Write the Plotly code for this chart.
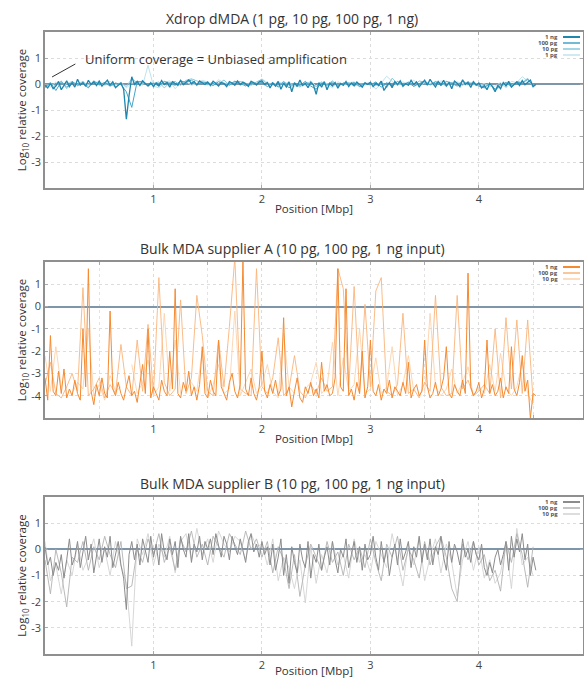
import plotly.graph_objects as go

# ---------------- data ----------------
BIN_FINE = 0.025   # Mbp per bin (highest input)
BIN_COARSE = 0.05  # Mbp per bin (lower inputs)

panel_titles = [
    "Xdrop dMDA (1 pg, 10 pg, 100 pg, 1 ng)",
    "Bulk MDA supplier A (10 pg, 100 pg, 1 ng input)",
    "Bulk MDA supplier B (10 pg, 100 pg, 1 ng input)",
]
x_tick_vals = [1, 2, 3, 4]
x_tick_text = ["1", "2", "3", "4"]
y_ticks_p1 = [1, 0, -1, -2, -3]
y_ticks_p2 = [1, 0, -1, -2, -3, -4]
y_ticks_p3 = [1, 0, -1, -2, -3]

# Panel 1: Xdrop dMDA
xdrop_1ng = [
    -0.05, -0.15, 0.02, -0.18, -0.08, 0.10, -0.22, -0.05, 0.12, -0.10, 0.05, -0.12, 0.18, -0.04, 0.06, -0.09, 0.14, -0.02, 0.08, -0.06,
    0.11, -0.08, 0.03, 0.15, -0.05, 0.09, -0.14, -0.03, 0.04, -0.20, -1.35, -0.45, 0.28, -0.02, 0.10, -0.06, 0.12, 0.02, -0.08, 0.05,
    -0.10, 0.04, -0.07, 0.13, -0.02, 0.06, -0.12, 0.09, 0.01, -0.05, 0.14, -0.03, 0.07, 0.16, 0.02, 0.10, -0.04, 0.12, 0.05, -0.02,
    0.08, -0.06, 0.11, 0.03, -0.08, 0.06, 0.02, -0.10, 0.09, 0.04, -0.05, 0.12, -0.03, 0.07, 0.01, -0.09, 0.10, 0.05, -0.04, 0.08,
    0.12, -0.02, 0.06, -0.15, 0.04, -0.08, 0.10, -0.20, 0.03, -0.12, 0.08, -0.30, 0.05, -0.10, 0.15, -0.06, 0.02, -0.14, 0.07, -0.04,
    -0.40, 0.05, -0.12, 0.09, -0.22, 0.03, -0.08, 0.06, -0.16, 0.02, -0.05, 0.10, -0.10, 0.04, -0.07, 0.08, -0.03, -0.12, 0.05, -0.02,
    0.07, -0.10, 0.03, -0.06, 0.11, -0.25, -0.08, 0.05, -0.14, 0.09, -0.03, 0.12, -0.09, 0.02, -0.05, 0.14, -0.02, 0.08, -0.11, 0.04,
    0.15, -0.05, 0.18, 0.02, -0.12, 0.10, -0.04, 0.14, -0.08, 0.06, -0.18, 0.11, 0.03, -0.10, 0.16, -0.02, 0.07, -0.13, 0.09, -0.05,
    0.04, -0.15, -0.06, -0.22, 0.02, -0.10, -0.30, -0.05, -0.18, 0.06, -0.08, 0.10, -0.12, -0.02, 0.08, -0.06, 0.13, -0.03, 0.05, 0.15,
    -0.10, -0.02,
]
xdrop_100pg = [
    -0.10, 0.05, -0.25, 0.08, -0.12, 0.10, -0.05, 0.02, -0.15, 0.12, -0.03, 0.06, -0.08, 0.04, -0.02, -0.30, -0.90, 0.10, 0.07, -0.06,
    0.03, -0.08, 0.10, 0.02, -0.05, 0.12, 0.06, 0.15, -0.02, 0.08, 0.04, -0.06, 0.09, 0.01, -0.04, 0.11, 0.03, -0.07, 0.05, 0.02,
    0.06, -0.10, 0.04, -0.12, 0.08, -0.15, 0.02, -0.06, 0.10, -0.08, -0.20, 0.03, -0.05, 0.07, -0.09, 0.04, -0.02, 0.06, -0.10, 0.03,
    -0.04, 0.08, -0.12, 0.05, -0.07, 0.10, -0.03, 0.06, -0.09, 0.02, 0.12, -0.04, 0.08, -0.06, 0.10, 0.03, -0.08, 0.12, -0.02, 0.05,
    -0.08, -0.15, 0.02, -0.20, -0.05, 0.06, -0.10, 0.08, 0.02, 0.18, -0.05,
]
xdrop_10pg = [
    -0.15, 0.04, -0.08, 0.12, -0.18, 0.06, -0.02, 0.10, -0.10, 0.05, 0.08, -0.04, 0.02, -0.12, 0.06, -0.10, 0.20, 0.05, 0.12, -0.06,
    0.02, 0.08, -0.15, 0.05, 0.10, -0.06, 0.14, 0.20, 0.12, 0.05, -0.03, 0.08, 0.02, 0.15, -0.04, 0.06, 0.10, 0.03, -0.05, 0.08,
    0.18, -0.02, 0.05, -0.08, 0.10, -0.05, 0.03, -0.12, 0.06, 0.02, -0.10, 0.08, -0.04, 0.12, -0.06, 0.03, 0.05, -0.08, 0.02, -0.03,
    0.05, -0.06, 0.10, -0.15, 0.22, 0.02, -0.04, 0.08, -0.10, 0.12, 0.06, -0.03, 0.10, 0.04, -0.08, 0.06, 0.02, -0.05, 0.09, -0.02,
    0.03, -0.12, 0.06, -0.25, -0.08, 0.04, -0.06, 0.10, 0.05, 0.22, -0.12,
]
xdrop_1pg = [
    -0.05, -0.12, 0.08, -0.20, 0.02, 0.10, -0.08, 0.05, -0.03, 0.12, -0.06, 0.04, 0.10, -0.02, 0.06, -0.15, 0.03, 0.08, -0.05, 0.72,
    -0.08, -0.15, 0.06, 0.12, -0.18, 0.04, 0.10, -0.05, 0.02, 0.14, 0.08, -0.04, 0.16, 0.05, -0.02, 0.10, 0.06, -0.08, 0.12, 0.03,
    0.20, 0.05, -0.06, 0.10, -0.02, 0.08, -0.10, 0.04, -0.05, 0.12, -0.08, 0.06, 0.02, -0.15, 0.09, -0.04, 0.05, 0.08, -0.10, 0.02,
    0.06, -0.20, 0.04, 0.30, 0.10, -0.06, 0.08, -0.02, 0.15, -0.08, 0.05, 0.02, -0.06, 0.12, 0.04, -0.10, 0.08, 0.03, -0.04, 0.10,
    -0.05, 0.02, -0.10, -0.08, 0.06, -0.15, 0.10, 0.05, 0.28, 0.12, -0.02,
]

# Panel 2: Bulk MDA supplier A
supA_1ng = [
    -3.2, -4.2, -1.3, -3.8, -4.0, -2.9, -3.9, -2.8, -4.1, -3.7, -4.0, -3.3, -3.9, -4.2, -1.0, -3.6, 1.7, -3.8, -4.4, -3.5,
    -4.0, -3.2, -3.9, -4.1, -0.2, -3.7, -4.0, -3.4, -3.9, -4.2, -3.6, -3.1, -4.0, -3.8, -4.3, -3.5, -2.6, -3.9, -1.0, -4.1,
    -3.6, -3.9, -4.2, -3.3, -3.8, -4.0, -2.0, -3.7, 0.8, -3.9, -4.1, -3.4, -3.8, -2.9, -4.0, -3.6, -4.2, -3.5, -1.8, -3.9,
    -4.1, -3.3, -3.8, -4.0, -1.5, -3.6, -3.9, -4.2, -3.4, -3.0, -3.8, -4.1, -3.5, 2.1, -3.7, -4.0, -3.2, -3.9, -4.2, -3.6,
    -2.0, -3.8, -4.1, -3.5, -3.9, -3.3, -4.0, -3.7, -0.5, -4.0, -3.6, -4.5, -3.8, -3.2, -4.1, -4.3, -3.6, -3.9, -3.4, -4.0,
    -3.7, -4.1, -2.5, -3.8, -3.5, -4.0, -3.9, -3.2, 1.7, -3.6, -3.8, 0.8, -4.0, -3.7, -4.2, -3.4, -3.9, -2.0, -4.1, -3.6,
    -1.5, -3.8, -4.0, -3.5, -4.2, -3.7, -3.9, -3.3, -4.1, -3.6, -3.8, -4.0, -3.4, -3.9, -2.5, -4.1, -3.7, -3.5, -4.0, -3.8,
    -1.5, -3.6, -4.1, -3.9, -3.4, -4.0, -3.7, -3.2, -1.8, -3.9, -4.1, -3.5, -3.8, -4.0, -3.3, -3.9, 1.5, -3.6, -4.0, -3.8,
    -3.4, -4.1, -3.7, -1.5, -3.9, -3.5, -4.0, -3.8, -3.2, -4.1, -3.6, -3.9, -1.8, -3.7, -4.0, -3.4, -2.2, -3.8, -3.3, -5.0,
    -3.9, -4.0,
]
supA_100pg = [
    -3.5, -2.5, -3.9, -4.1, -3.6, -3.0, -3.8, 0.85, -4.0, -3.7, -3.2, -4.1, -3.5, -3.9, -1.7, -3.6, -4.0, -1.5, -3.8, -0.8,
    -3.9, 1.3, -3.4, -4.0, -3.7, 0.3, -3.9, -3.2, 0.5, -1.3, -3.8, -4.0, -1.5, -3.6, -0.9, 2.2, -3.7, -3.9, -4.0, 1.7,
    -3.6, -3.9, -3.2, -1.4, -4.0, -3.7, -2.2, -3.8, -4.1, -3.5, -3.9, -3.2, -3.8, -3.6, 1.7, 0.8, -3.7, 0.9, -3.9, 0.1,
    -3.6, 0.7, 1.3, -3.8, -4.0, -3.5, -0.3, -3.9, -3.7, -4.1, -3.4, -3.8, 0.5, -3.6, -4.0, -3.9, 0.5, -3.7, -3.3, -4.0,
    -3.8, -3.5, -3.9, -1.0, -4.1, -0.5, -3.7, -0.6, -3.9, -0.6, -4.2,
]
supA_10pg = [
    -2.2, -3.8, -1.8, -3.6, None, -3.9, -3.4, -3.7, -1.0, -4.0, -3.5, -4.2, -3.1, -3.8, -3.6, None, -2.6, -3.9, -3.4, -2.4,
    -4.0, -3.6, -0.3, -3.8, -1.5, -3.9, None, -3.4, -3.8, -2.0, -4.1, -3.5, -2.6, -3.9, -3.7, -0.2, -4.0, -3.4, -2.8, -3.9,
    -3.5, -2.6, -3.8, -4.1, -1.2, -3.6, -3.9, None, -3.7, -3.4, -2.5, -3.9, -3.6, -1.6, -4.0, -2.3, -3.8, -3.5, -1.0, -3.9,
    -3.7, -2.3, -3.9, -3.6, -1.8, -4.0, -3.5, -2.2, -3.8, None, -3.9, -0.3, -3.6, -4.0, -3.7, -2.8, -3.9, -3.4, -2.7, -4.0,
    -3.6, -3.9, -2.6, -3.8, -2.1, -3.7, -4.0, -3.6, -2.5, -3.9, -4.4,
]

# Panel 3: Bulk MDA supplier B
supB_1ng = [
    0.1, -0.6, -0.3, -1.0, -0.5, -0.8, -0.2, -1.1, -0.4, 0.4, -0.6, -0.3, 0.3, -0.7, -0.1, 0.5, -0.4, 0.2, -0.9, -0.2,
    0.4, -0.5, 0.1, -0.3, 0.5, -0.7, -0.2, 0.3, -0.6, -1.1, -2.3, -0.2, 0.3, -0.4, 0.2, -0.6, 0.4, -0.1, -0.5, 0.5,
    -0.3, 0.2, -0.6, 0.6, -0.1, -0.4, 0.4, -0.2, 0.3, -0.7, 0.5, 0.0, -0.3, 0.6, -0.5, 0.2, -0.1, 0.5, -0.4, 0.3,
    0.0, 0.4, -0.2, 0.6, 0.1, -0.3, 0.5, 0.2, -0.4, 0.5, 0.1, -0.2, 0.4, 0.0, -0.5, 0.3, 0.6, -0.1, 0.2, -0.3,
    0.3, -0.2, 0.1, -0.6, 0.2, -0.8, -0.3, 0.4, -1.0, -0.2, -1.3, 0.1, -0.5, -0.9, 0.2, -0.4, -0.7, 0.3, -1.1, -0.2,
    -0.5, 0.2, -0.8, -0.3, 0.1, -0.6, 0.3, -0.4, -0.9, 0.0, -0.3, 0.4, -0.7, -0.2, 0.3, -0.5, 0.1, -0.8, 0.2, -0.4,
    -0.2, 0.5, -0.3, -0.8, 0.3, -0.5, 0.0, -1.0, -0.3, 0.2, -0.6, 0.4, -0.4, -0.1, 0.3, -0.7, 0.1, -0.3, 0.5, -0.5,
    0.2, -0.4, 0.4, -0.6, 0.1, -0.2, 0.5, -0.3, -0.8, 0.3, -0.5, 0.2, -0.1, -0.6, 0.4, -0.3, 0.0, -0.5, 0.3, -0.2,
    -0.4, 0.2, -0.7, -1.0, -0.5, -0.9, -0.3, 0.0, -0.6, -0.2, 0.3, -0.8, 0.5, -0.3, 0.4, -0.1, 0.6, -0.4, 0.2, -1.0,
    -0.3, -0.8,
]
supB_100pg = [
    -0.4, -1.7, 0.0, -0.9, -2.2, -0.3, -0.5, 0.3, -0.8, 0.1, -0.4, 0.5, -0.2, -0.7, 0.3, -1.5, -1.4, 0.0, -0.5, 0.4,
    -0.2, 0.6, -0.5, 0.1, -0.8, 0.4, -0.1, 0.7, -0.3, 0.2, -0.6, 0.5, 0.1, -0.3, 0.6, 0.2, -0.2, 0.7, 0.0, 0.4,
    -0.3, 0.3, -0.9, 0.1, -0.4, -1.5, -0.2, -1.8, -0.6, 0.2, -0.3, -0.8, 0.3, -0.5, -0.1, -1.0, 0.2, -0.4, 0.1, -0.7,
    0.4, -0.5, -1.2, 0.2, -0.3, 0.5, -0.8, 0.0, -0.4, -1.1, 0.3, -0.6, 0.1, 0.5, -0.3, -1.5, -2.0, 0.2, -0.4, 0.3,
    -0.6, -0.2, -1.2, -0.8, -1.6, 0.3, -0.5, 0.6, -0.2, -1.45, 0.1,
]
supB_10pg = [
    0.3, -1.2, -0.6, -1.7, -0.4, -1.0, 0.2, -0.8, -0.3, 0.4, -0.7, 0.0, -1.0, 0.3, -0.6, -1.3, -3.7, 0.4, -0.2, 0.6,
    -0.6, 0.2, -0.3, 0.5, -0.9, 0.3, 0.6, -0.4, 0.8, -0.2, 0.4, -0.5, 0.7, 0.2, -0.1, 0.5, 0.3, -0.4, 0.6, 0.1,
    0.2, -0.6, 0.4, -1.2, -0.3, -0.7, -1.5, -0.4, -2.05, 0.1, -1.3, -0.2, -0.9, 0.3, -0.6, -0.2, -1.1, 0.4, -0.5, -0.2,
    -0.9, 0.3, -0.2, -0.7, 0.6, -0.4, -1.4, 0.2, -0.6, 0.5, -1.2, -0.3, 0.4, -0.9, 0.2, -0.5, -1.8, -0.4, 0.3, -0.8,
    0.1, -1.1, -0.4, -1.3, -0.9, 0.2, -1.5, 0.8, -0.6, -0.3, -1.0,
]


def positions(values, step):
    return [round(i * step, 4) for i in range(len(values))]


# ---------------- layout helpers ----------------
W, H = 584, 678
FONT = "Open Sans"


def py(px):
    return 1 - px / H


def pxx(px):
    return px / W


panels = [
    dict(top=32, bottom=188, yr=[-4, 2], yt=y_ticks_p1,
         series=[("1 pg", xdrop_1pg, BIN_COARSE, "#bfe3ee", 1.0),
                 ("10 pg", xdrop_10pg, BIN_COARSE, "#86c8de", 1.0),
                 ("100 pg", xdrop_100pg, BIN_COARSE, "#45a4c6", 1.0),
                 ("1 ng", xdrop_1ng, BIN_FINE, "#1f86ae", 1.3)],
         minor=False),
    dict(top=262, bottom=418, yr=[-5, 2], yt=y_ticks_p2,
         series=[("10 pg", supA_10pg, BIN_COARSE, "#fcd2aa", 0.9),
                 ("100 pg", supA_100pg, BIN_COARSE, "#f9b47a", 0.9),
                 ("1 ng", supA_1ng, BIN_FINE, "#f58a30", 1.0)],
         minor=True),
    dict(top=497, bottom=654, yr=[-4, 2], yt=y_ticks_p3,
         series=[("10 pg", supB_10pg, BIN_COARSE, "#d2d2d2", 0.9),
                 ("100 pg", supB_100pg, BIN_COARSE, "#b2b2b2", 0.9),
                 ("1 ng", supB_1ng, BIN_FINE, "#8c8c8c", 1.0)],
         minor=False),
]

fig = go.Figure()
annotations = []
shapes = []
layout_axes = {}

for k, p in enumerate(panels):
    n = k + 1
    xa = "x" if n == 1 else f"x{n}"
    ya = "y" if n == 1 else f"y{n}"
    for name, vals, step, color, lw in p["series"]:
        fig.add_trace(go.Scatter(
            x=positions(vals, step), y=vals, mode="lines", name=name,
            line=dict(color=color, width=lw), xaxis=xa, yaxis=ya,
            showlegend=False, connectgaps=False,
        ))
    xkey = "xaxis" if n == 1 else f"xaxis{n}"
    ykey = "yaxis" if n == 1 else f"yaxis{n}"
    xaxis = dict(
        domain=[pxx(45), pxx(583)], range=[0, 4.96], anchor=ya,
        tickvals=x_tick_vals, ticktext=x_tick_text,
        showline=True, linecolor="#8f8f8f", linewidth=1.5, mirror="ticks",
        ticks="inside", ticklen=3, tickcolor="#aaaaaa",
        showgrid=True, gridcolor="#dcdcdc", griddash="dot", gridwidth=1,
        zeroline=False,
        tickfont=dict(family=FONT, size=11, color="#444"),
        title=dict(text="Position [Mbp]", font=dict(family=FONT, size=11.5, color="#333"), standoff=0),
        automargin=False,
    )
    if p["minor"]:
        xaxis["minor"] = dict(dtick=0.5, tick0=0, showgrid=True, gridcolor="#e2e2e2",
                              griddash="dot", ticks="inside", ticklen=3, tickcolor="#aaaaaa")
    layout_axes[xkey] = xaxis
    layout_axes[ykey] = dict(
        domain=[py(p["bottom"]), py(p["top"])], range=p["yr"], anchor=xa,
        tickvals=p["yt"], ticktext=[str(v) for v in p["yt"]],
        showline=True, linecolor="#8f8f8f", linewidth=1.5, mirror="ticks",
        ticks="inside", ticklen=3, tickcolor="#aaaaaa",
        showgrid=True, gridcolor="#dcdcdc", griddash="dot", gridwidth=1,
        zeroline=True, zerolinecolor="#7f95aa", zerolinewidth=1.6,
        tickfont=dict(family=FONT, size=11, color="#444"),
        title=dict(text="Log<sub>10</sub> relative coverage",
                   font=dict(family=FONT, size=11.5, color="#333"), standoff=2),
        automargin=False,
    )
    # panel title
    annotations.append(dict(
        text=panel_titles[k], x=0.5, y=py(p["top"] - 14), xref="paper", yref="paper",
        showarrow=False, xanchor="center", yanchor="middle",
        font=dict(family=FONT, size=14, color="#333"),
    ))
    # legend (text, then line sample)
    legend_items = list(reversed(p["series"]))
    for j, (name, vals, step, color, lw) in enumerate(legend_items):
        yy = py(p["top"] + 5 + 6 * j)
        annotations.append(dict(
            text=f"<b>{name}</b>", x=pxx(560), y=yy, xref="paper", yref="paper",
            showarrow=False, xanchor="right", yanchor="middle",
            font=dict(family=FONT, size=6, color="#555"),
        ))
        shapes.append(dict(
            type="line", xref="paper", yref="paper",
            x0=pxx(563), x1=pxx(580), y0=yy, y1=yy,
            line=dict(color=color, width=2 if name == "1 ng" else 1.5),
        ))

# annotation in panel 1
annotations.append(dict(
    text="Uniform coverage = Unbiased amplification", x=0.35, y=0.96, xref="x", yref="y",
    showarrow=False, xanchor="left", yanchor="middle",
    font=dict(family=FONT, size=13, color="#333"),
))
shapes.append(dict(type="line", xref="x", yref="y", x0=0.065, y0=0.27, x1=0.28, y1=0.77,
                   line=dict(color="#333", width=1)))

fig.update_layout(
    width=W, height=H,
    margin=dict(l=0, r=0, t=0, b=0),
    paper_bgcolor="white", plot_bgcolor="white",
    showlegend=False,
    annotations=annotations, shapes=shapes,
    **layout_axes,
)

fig.write_html(
    "out.html",
    config={"displayModeBar": False},
    post_script="document.body.style.margin='0';document.body.style.overflow='hidden';",
)
